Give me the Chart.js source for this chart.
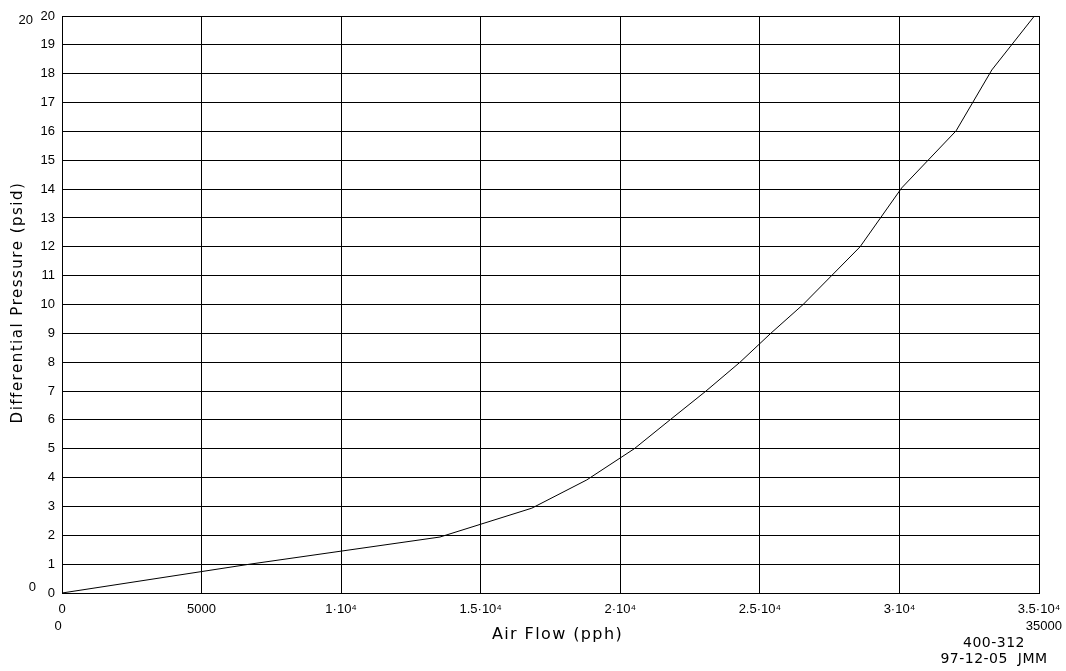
<!DOCTYPE html>
<html>
<head>
<meta charset="utf-8">
<script src="https://cdn.jsdelivr.net/npm/chart.js@4"></script>
<style>
  html, body { margin: 0; padding: 0; background: #fff; overflow: hidden; }
  #wrap { width: 1066px; height: 671px; position: relative; }
  canvas { display: block; }
</style>
</head>
<body>
<div id="wrap"><canvas id="c"></canvas></div>
<script>
// ---- data ----
const airFlow = [0, 6730, 13540, 16830, 18800, 20500, 21780, 23070, 24290, 25390, 26550, 28590, 30080, 32030, 33310, 34860];
const diffPressure = [0, 1.0, 1.94, 2.94, 3.92, 5.0, 6.0, 7.0, 8.0, 9.0, 10.0, 12.0, 14.04, 16.02, 18.13, 20.03];
const xTickValues = [0, 5000, 10000, 15000, 20000, 25000, 30000, 35000];
const xTickLabels = ["0", "5000", "1\u00B710\u2074", "1.5\u00B710\u2074", "2\u00B710\u2074", "2.5\u00B710\u2074", "3\u00B710\u2074", "3.5\u00B710\u2074"];
const xTitle = "Air Flow (pph)";
const yTitle = "Differential Pressure (psid)";
const xLimits = ["0", "35000"];
const yLimits = ["0", "20"];
const stamp = ["400-312", "97-12-05  JMM"];

const tickFont = '"Liberation Sans", Arial, sans-serif';
const plain = '"DejaVu Sans", sans-serif';

const extras = {
  id: 'extras',
  afterDraw(chart) {
    const ctx = chart.ctx;
    const a = chart.chartArea;
    ctx.save();
    ctx.fillStyle = '#000';
    ctx.font = '13px ' + tickFont;
    ctx.textBaseline = 'middle';
    // y limit labels
    ctx.textAlign = 'right';
    ctx.fillText(yLimits[1], a.left - 29, a.top + 4);
    ctx.fillText(yLimits[0], a.left - 26, a.bottom - 6);
    // x limit labels
    ctx.textAlign = 'center';
    ctx.fillText(xLimits[0], a.left - 4, a.bottom + 33);
    ctx.textAlign = 'right';
    ctx.fillText(xLimits[1], a.right + 23, a.bottom + 33);
    // stamp
    ctx.font = '14px ' + plain;
    ctx.letterSpacing = '0.5px';
    ctx.textAlign = 'center';
    ctx.fillText(stamp[0], a.right - 45, a.bottom + 50);
    ctx.fillText(stamp[1], a.right - 45, a.bottom + 66);
    // axis titles
    ctx.font = '16px ' + plain;
    ctx.letterSpacing = '1.4px';
    ctx.textAlign = 'center';
    ctx.fillText(xTitle, (a.left + a.right) / 2 + 7, a.bottom + 42);
    ctx.font = '15px ' + plain;
    ctx.letterSpacing = '1.5px';
    ctx.translate(18, (a.top + a.bottom) / 2 - 2);
    ctx.rotate(-Math.PI / 2);
    ctx.fillText(yTitle, 0, 0);
    ctx.restore();
  }
};

new Chart(document.getElementById('c'), {
  type: 'line',
  data: {
    datasets: [{
      data: airFlow.map((x, i) => ({ x: x, y: diffPressure[i] })),
      borderColor: '#000',
      borderWidth: 1,
      pointRadius: 0,
      fill: false,
      tension: 0
    }]
  },
  options: {
    responsive: true,
    maintainAspectRatio: false,
    animation: false,
    layout: { padding: { left: 0, right: 27, top: 16, bottom: 0 } },
    plugins: { legend: { display: false }, tooltip: { enabled: false } },
    scales: {
      x: {
        type: 'linear',
        min: 0, max: 35000,
        afterBuildTicks(scale) { scale.ticks = xTickValues.map(v => ({ value: v })); },
        afterFit(scale) { scale.height = 78; scale.paddingRight = 0; scale.paddingLeft = 0; },
        grid: { color: '#000', lineWidth: 1, drawTicks: false },
        border: { color: '#000', width: 1 },
        ticks: {
          color: '#000',
          font: { family: tickFont, size: 13 },
          padding: 9,
          maxRotation: 0,
          autoSkip: false,
          callback: (v) => { const i = xTickValues.indexOf(v); return i >= 0 ? xTickLabels[i] : ''; }
        },
        title: { display: false }
      },
      y: {
        type: 'linear',
        min: 0, max: 20,
        afterFit(scale) { scale.width = 62; },
        grid: { color: '#000', lineWidth: 1, drawTicks: false },
        border: { color: '#000', width: 1 },
        ticks: {
          color: '#000', stepSize: 1,
          font: { family: tickFont, size: 13 },
          padding: 7, autoSkip: false
        },
        title: { display: false }
      }
    }
  },
  plugins: [extras]
});
</script>
</body>
</html>
